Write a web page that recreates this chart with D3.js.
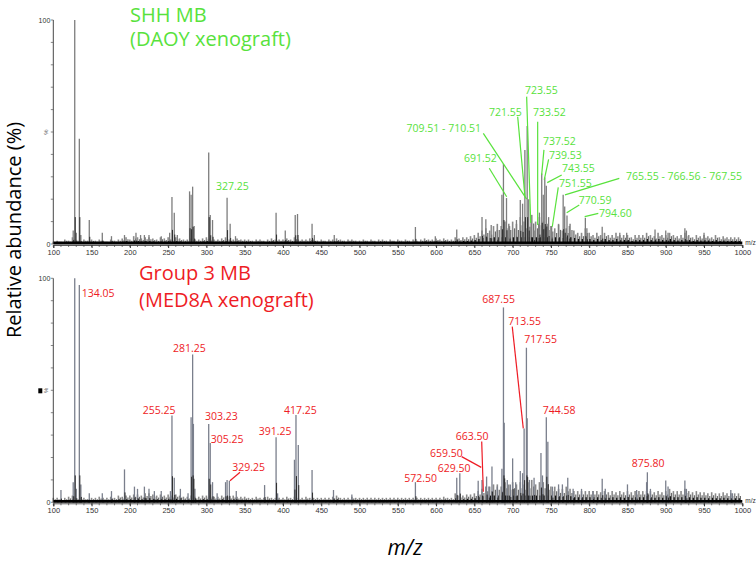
<!DOCTYPE html>
<html><head><meta charset="utf-8">
<script src="https://cdn.jsdelivr.net/npm/d3@7"></script>
<style>body{margin:0;background:#fff}svg{display:block}</style>
</head><body>
<svg id="c" width="756" height="561"></svg>
<script>
// ---------- DATA ----------
const xTicks = [100,150,200,250,300,350,400,450,500,550,600,650,700,750,800,850,900,950,1000];
const noiseStart = 100, noiseStep = 5;
const noiseTop = [1,1.5,1,2,1.5,3,2,1.5,2,1.5, 2,1.5,2,1.5,1,2,1.5,2,2.5,3, 2,3.5,3,2.5,3,3,2.5,2,3,2.5,
 3,2,3,2.5,2,2,2.5,2,2,2.5, 3,2.5,2,2,2.5,3,2,2,2.5,2, 2,2,1.5,2,2,1.5,2,2.5,2,2,
 2,2.5,2,3,2,2,2,2.5,2,1.5, 2,1.5,2,2,2.5,2,1.5,2,2,1.5, 1.5,2,1.5,2,1.5,2,2,1.5,2,1.5,
 2,1.5,2,1.5,2,1.5,2,2.5,2,2, 2.5,2,2.5,2,2,3,2.5,3,3,3.5, 4,5,6,7,6,8,9,8,10,9,
 10,9,12,10,11,13,10,12,10,9, 8,7,9,6,7,9,6,5,5,7, 5,4,5,4,5,4,4,5,4,4,
 4,3,4,4,4,5,4,3.5,5,4, 4,5,4,3.5,4,5,4,3,4,3.5, 4,3.5,3,4,3,3.5,3,3,3,3];
const noiseBot = [2,2,1.5,2,2.5,3,2,2,2,1.5, 2,2,2.5,2,2,2.5,2,3,2.5,3, 3,3.5,3.5,3,4,4,3.5,3,3.5,3,
 3.5,3,3.5,3,2.5,2.5,3,2.5,2.5,3, 3,3,2.5,2.5,3,2.5,2.5,3,2.5,2.5, 2.5,2,2,2.5,2,2,2.5,2,2,2,
 2,2.5,2,2.5,2,2,2.5,2,2,2, 2,2,2,2.5,3,2,2,2,2.5,2, 2,2,2,2,2,2,2,2,2,2,
 2,2,2,2,2,2,2,2,2,2, 2,2,2.5,2,2,4,3,3,3.5,3.5, 4,5,6,7,7,8,8,7,9,8,
 9,8,9,8,9,10,8,9,9,8, 7,7,6,6,7,6,5,5,5,5, 5,5,5,4.5,5,4.5,5,4.5,5,4.5,
 5,4.5,5,5,5,5,5,4.5,5,4.5, 5,6,5,5,5,6,5,4.5,5,4.5, 4.5,4,4.5,4,4,4.5,4,4,4,4];

const peaksTop = [[126,6],[128,100],[130,5],[134,47],[136,4],[147,10.7],[164,5],[176,3.5],[193,4],[208,5],[214,4],[219,4],[225,4],[241,3.5],[252,5],[255,21],[258,14],[262,4],[278,23.5],[280,22],[282,25.6],[284,8],[303,40.8],[305,13],[308,10.7],[327,20.7],[331,9],[338,3.5],[391,14],[403,6],[416,13],[419,13.4],[438,9],[441,4],[467,4],[573,7.6],[599,3.5],[627,6.5],[660,12],[665,11],[672,8.5],[680,6.3],[686,22],[688,35.7],[692,20.5],[696,8],[705,10.7],[710,19.6],[713,18],[716,42],[719,52.7],[721,20],[724,10],[728,6],[734,9],[735,14],[738,31.5],[740,22],[742,29.7],[744,26],[747,12],[751,8],[760,8.5],[766,22],[768,16.7],[771,12.7],[774,8],[795,11.7],[797,7],[817,7.7],[840,5],[849,5],[886,6.5],[900,6],[903,5],[925,7],[927,6],[950,5]];
const peaksBot = [[110,5.5],[126,9],[128,100],[130,6],[134,97],[136,8],[147,4],[164,4],[176,5],[193,14.7],[206,7],[210,6],[219,7],[225,6],[232,5],[241,5],[253,5],[255,38.8],[258,11],[266,6],[276,4],[280,38],[282,66],[283,35],[285,6],[303,35],[305,26.5],[308,9],[314,4],[325,9],[327,10],[330,9.6],[339,5],[376,7.7],[391,29],[393,4],[415,19],[417,39],[420,25.6],[438,14.4],[466,5.5],[490,3.5],[573,9],[627,11],[631,13],[655,9.6],[660,10],[666,11.5],[669,7],[673,16],[680,7],[686,15],[688,87],[689,35.5],[693,10],[697,8],[700,19.6],[704,9],[710,14],[713,13],[715,33],[718,69],[719,37.5],[722,10],[728,11],[737,22],[739,12],[744,38],[746,27],[752,7],[760,8],[765,8],[772,11],[779,6],[790,6],[805,5],[817,10.5],[821,6],[850,8],[862,5.5],[875,9],[876,13.4],[880,6],[900,9.7],[903,7],[925,9.7],[927,6],[985,5.5],[987,4]];

// annotations: text, label mz, label %, anchor, [line from mz,%], [line to mz,%]
const annTop = [
 ["327.25",312.5,24.1,"start",null,null],
 ["709.51 - 710.51",658.6,50,"end",[661.7,49.4],[718.3,20]],
 ["691.52",636.4,36.6,"start",[669.5,33.8],[692.2,21.1]],
 ["721.55",669.1,57.1,"start",[706.6,56.8],[716.1,21.1]],
 ["723.55",716.1,67,"start",[718.3,65.8],[723.6,9.5]],
 ["733.52",726.6,57.1,"start",[732.7,54.6],[732.7,8.5]],
 ["737.52",739.7,44.2,"start",[740.9,42],[737.9,30.8]],
 ["739.53",747.5,37.9,"start",[747,37.8],[741.3,28.6]],
 ["743.55",764.5,32.1,"start",[764.1,30.8],[745.2,27.4]],
 ["751.55",760.5,25.4,"start",[759.6,25.3],[751.8,7.7]],
 ["765.55 - 766.56 - 767.55",848.1,28.6,"start",[839.3,29.3],[768.4,21.9]],
 ["770.59",786.5,17.9,"start",[787,17.4],[770.6,14]],
 ["794.60",812.7,12.1,"start",[811.9,13.7],[794.1,12.2]]
];
const annBot = [
 ["134.05",137.1,91.8,"start",null,null],
 ["281.25",256.3,67,"start",null,null],
 ["255.25",216.8,39.4,"start",null,null],
 ["303.23",298.1,36.9,"start",null,null],
 ["305.25",305.6,26.5,"start",null,null],
 ["329.25",333.8,13.8,"start",[343.9,13.4],[330.8,9.6]],
 ["391.25",368.3,30,"start",null,null],
 ["417.25",401.3,39.6,"start",null,null],
 ["572.50",558.5,9.1,"start",null,null],
 ["629.50",602.1,13.4,"start",null,null],
 ["659.50",592,20.4,"start",[633.4,20.4],[659,15.6]],
 ["663.50",625.6,27.9,"start",[659.6,27.1],[661.7,4.7]],
 ["687.55",660.4,88.8,"start",null,null],
 ["713.55",694.3,79.2,"start",[699.5,78.4],[713.9,33]],
 ["717.55",715.2,71,"start",null,null],
 ["744.58",739.2,39.4,"start",null,null],
 ["875.80",855.5,15.6,"start",null,null]
];
const titlesTop = ["SHH MB","(DAOY xenograft)"];
const titlesBot = ["Group 3 MB","(MED8A xenograft)"];

// ---------- DRAW ----------
const svg = d3.select("#c");
const x = d3.scaleLinear().domain([100,1000]).range([53.3,742.3]);
const panels = [
 {y:d3.scaleLinear().domain([0,100]).range([244,20]), noise:noiseTop, peaks:peaksTop, ann:annTop, col:"#58e23c", titles:titlesTop, tx:130, ty:[21.5,46], peakCol:"#7d7d7d", mark:false},
 {y:d3.scaleLinear().domain([0,100]).range([502.3,278.3]), noise:noiseBot, peaks:peaksBot, ann:annBot, col:"#ee1c25", titles:titlesBot, tx:139, ty:[280,307], peakCol:"#7a7f8c", mark:true}
];

panels.forEach(p=>{
  const g = svg.append("g");
  const y = p.y;
  const noise = p.noise.map((v,i)=>[noiseStart+i*noiseStep, v]);
  g.selectAll(".n").data(noise).join("line")
    .attr("x1",d=>x(d[0])).attr("x2",d=>x(d[0]))
    .attr("y1",y(0)).attr("y2",d=>y(d[1])).attr("stroke","#8a8a8a").attr("stroke-width",1.6);
  g.selectAll(".n2").data(noise).join("line")
    .attr("x1",d=>x(d[0]+2.5)).attr("x2",d=>x(d[0]+2.5))
    .attr("y1",y(0)).attr("y2",d=>y(d[1]*0.7)).attr("stroke","#6a6a6a").attr("stroke-width",1.2);
  g.selectAll(".nb").data(noise).join("line")
    .attr("x1",d=>x(d[0]+1)).attr("x2",d=>x(d[0]+1))
    .attr("y1",y(0)).attr("y2",d=>y(Math.min(d[1]*0.45,3))).attr("stroke","#111").attr("stroke-width",1.3);
  g.selectAll(".p").data(p.peaks).join("line")
    .attr("x1",d=>x(d[0])).attr("x2",d=>x(d[0]))
    .attr("y1",y(0)).attr("y2",d=>y(d[1])).attr("stroke",p.peakCol).attr("stroke-width",1.3);
  g.selectAll(".pb").data(p.peaks).join("line")
    .attr("x1",d=>x(d[0])+0.5).attr("x2",d=>x(d[0])+0.5)
    .attr("y1",y(0)).attr("y2",d=>y(Math.min(d[1]*0.3,12))).attr("stroke","#2a2a2a").attr("stroke-width",1);
  g.append("line").attr("x1",x(100)).attr("x2",x(1000)).attr("y1",y(0)-1).attr("y2",y(0)-1)
    .attr("stroke","#000").attr("stroke-width",2.8);
  // x axis
  const ax = d3.axisBottom(x).tickValues(xTicks).tickSize(3).tickFormat(d3.format("d"));
  const axg = g.append("g").attr("transform",`translate(0,${y(0)+1})`).call(ax);
  axg.select(".domain").attr("stroke","#333").attr("stroke-width",0.8);
  axg.selectAll(".tick line").attr("stroke","#333");
  axg.selectAll(".tick text").attr("font-family","Liberation Sans, Arial, sans-serif").attr("font-size",7.5)
     .attr("fill","#333").attr("dy","0.55em").attr("font-stretch","condensed");
  const minor = d3.range(100,1001,10);
  g.selectAll(".mt").data(minor).join("line")
    .attr("x1",d=>x(d)).attr("x2",d=>x(d)).attr("y1",y(0)+1).attr("y2",y(0)+3).attr("stroke","#444").attr("stroke-width",0.7);
  g.append("text").attr("x",x(1000)+3).attr("y",y(0)+1).text("m/z")
    .attr("font-family","Liberation Sans, Arial, sans-serif").attr("font-size",6.5).attr("fill","#333");
  // y axis
  g.append("line").attr("x1",x(100)).attr("x2",x(100)).attr("y1",y(0)).attr("y2",y(100)).attr("stroke","#333").attr("stroke-width",0.9);
  g.selectAll(".yt").data(d3.range(0,101,10)).join("line")
    .attr("x1",x(100)-2.5).attr("x2",x(100)).attr("y1",d=>y(d)).attr("y2",d=>y(d)).attr("stroke","#555").attr("stroke-width",0.7);
  [[100,"100"],[0,"0"]].forEach(t=>{
    g.append("text").attr("x",x(100)-3).attr("y",y(t[0])+2.5).attr("text-anchor","end").text(t[1])
      .attr("font-family","Liberation Sans, Arial, sans-serif").attr("font-size",7).attr("fill","#333");
  });
  g.append("text").attr("transform",`translate(${x(100)-5},${y(50)}) rotate(-90)`).attr("text-anchor","middle").text("%")
    .attr("font-family","Liberation Sans, Arial, sans-serif").attr("font-size",6).attr("fill","#555");
  if(p.mark){
    g.append("rect").attr("x",x(100)-15).attr("y",y(50)-2).attr("width",4).attr("height",5).attr("fill","#000");
  }
  p.ann.forEach(a=>{
    if(a[4]) g.append("line").attr("x1",x(a[4][0])).attr("y1",y(a[4][1])).attr("x2",x(a[5][0])).attr("y2",y(a[5][1]))
      .attr("stroke",p.col).attr("stroke-width",1.2);
    g.append("text").attr("x",x(a[1])).attr("y",y(a[2])).attr("text-anchor",a[3]).text(a[0])
      .attr("font-family","Open Sans, sans-serif").attr("font-size",10.5).attr("fill",p.col);
  });
  p.titles.forEach((t,i)=>{
    g.append("text").attr("x",p.tx).attr("y",p.ty[i]).text(t)
      .attr("font-family","Open Sans, sans-serif").attr("font-size",20).attr("fill",p.col);
  });
});

svg.append("text").attr("transform","translate(21,230) rotate(-90)").attr("text-anchor","middle")
  .text("Relative abundance (%)").attr("font-family","Open Sans, sans-serif").attr("font-size",20).attr("fill","#000");
svg.append("text").attr("x",405).attr("y",555).attr("text-anchor","middle").text("m/z")
  .attr("font-family","Open Sans, sans-serif").attr("font-style","italic").attr("font-size",21).attr("fill","#000");
</script>
</body></html>
